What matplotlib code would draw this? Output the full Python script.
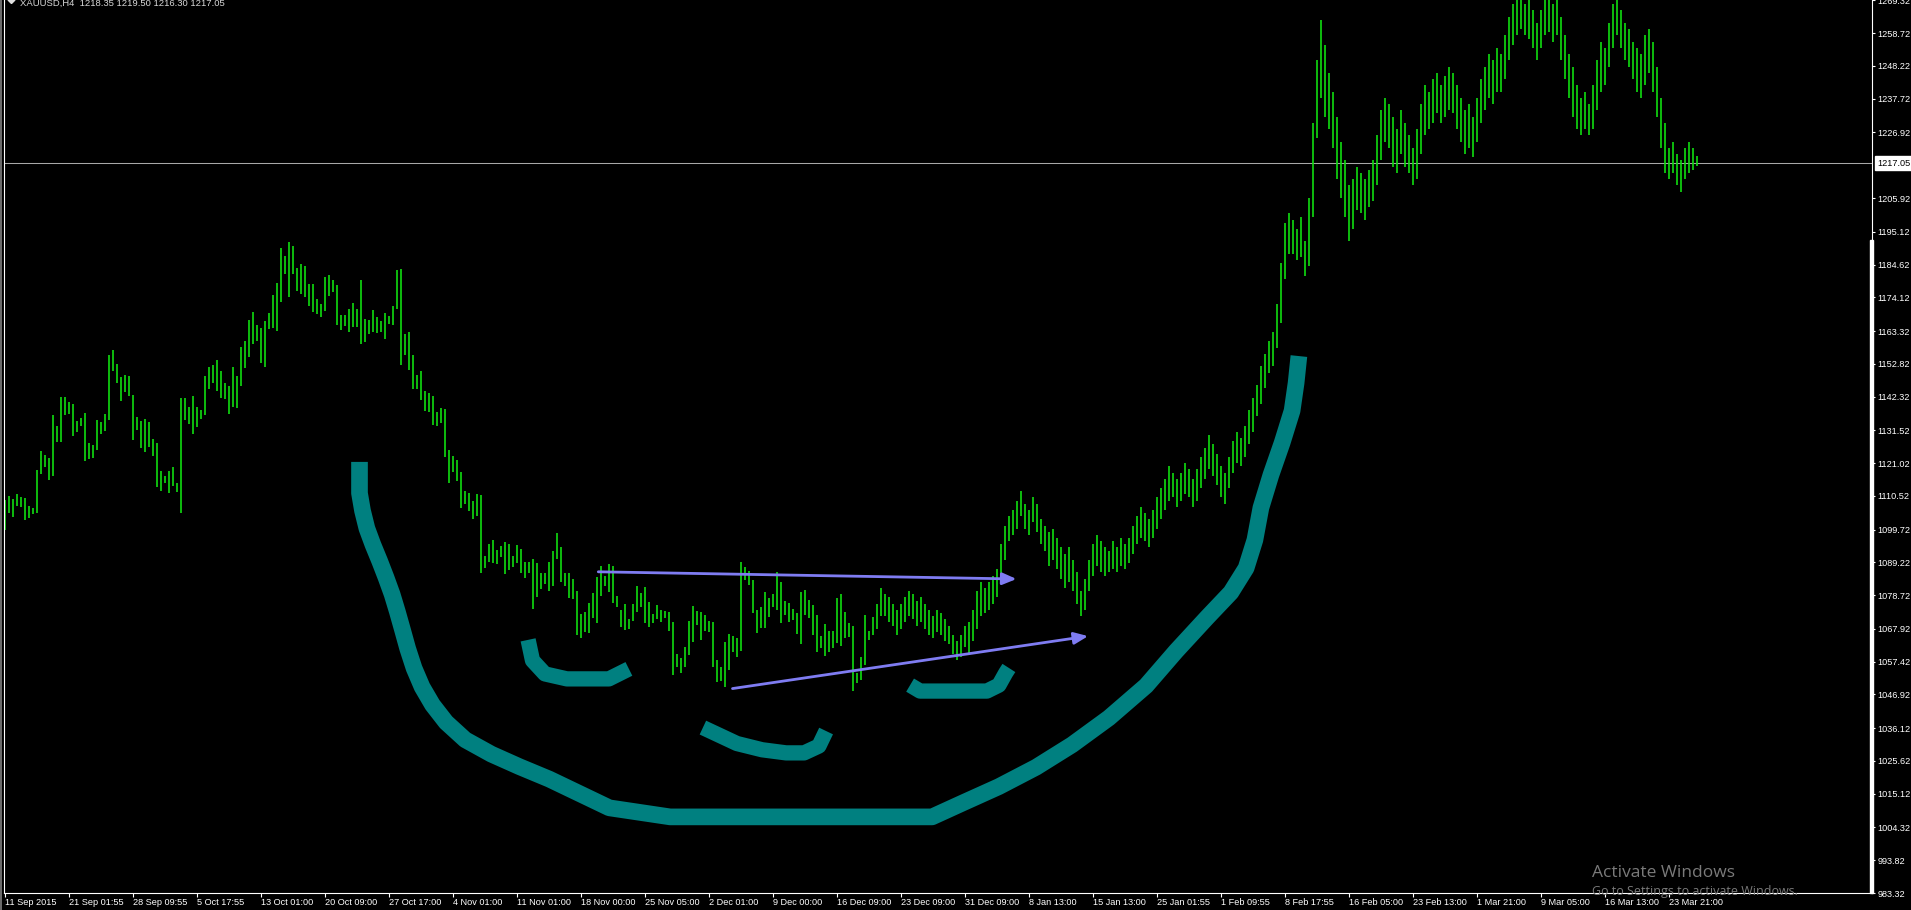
# -*- coding: utf-8 -*-

# XAUUSD H4 chart, MetaTrader style (black background, green bars)

import numpy as np
from matplotlib import pyplot as plt
from matplotlib.patches import Rectangle, Polygon
from matplotlib.lines import Line2D
import matplotlib.transforms as mtransforms

W, H, DPI = 1911, 910, 100

# One entry = two H4 bars (high / low)
HIGH = [
    1109.2, 1110.6, 1109.5, 1111.1, 1110.3, 1109.9, 1107.4, 1106.7, 1118.8, 1124.9,
    1123.6, 1122.5, 1136.4, 1132.9, 1142.3, 1142.1, 1140.7, 1139.9, 1134.5, 1135.6,
    1137.1, 1127.6, 1126.8, 1134.8, 1134.2, 1136.7, 1155.6, 1157.2, 1152.8, 1148.7,
    1149.2, 1149.0, 1142.8, 1135.7, 1134.4, 1135.1, 1134.3, 1128.7, 1127.3, 1118.5,
    1117.0, 1118.5, 1119.9, 1114.6, 1141.9, 1141.9, 1138.9, 1142.5, 1138.9, 1138.0,
    1149.0, 1151.9, 1152.4, 1154.0, 1150.6, 1146.8, 1145.8, 1151.9, 1149.0, 1158.1,
    1160.1, 1166.8, 1169.5, 1165.2, 1164.4, 1166.5, 1169.1, 1174.9, 1178.6, 1189.8,
    1187.4, 1191.9, 1190.6, 1183.4, 1184.8, 1184.1, 1178.4, 1178.4, 1173.6, 1172.0,
    1180.5, 1181.3, 1179.7, 1178.1, 1168.5, 1168.5, 1170.4, 1172.4, 1170.4, 1179.7,
    1167.1, 1166.8, 1170.0, 1167.7, 1166.6, 1169.0, 1168.2, 1171.4, 1182.9, 1183.1,
    1162.4, 1163.1, 1155.6, 1149.2, 1150.5, 1144.2, 1143.6, 1142.5, 1137.5, 1138.6,
    1138.2, 1125.2, 1123.3, 1122.0, 1118.3, 1112.1, 1111.6, 1108.9, 1111.1, 1110.8,
    1091.2, 1095.1, 1096.4, 1093.2, 1094.5, 1095.6, 1095.1, 1091.3, 1094.8, 1093.5,
    1089.2, 1089.4, 1090.3, 1088.9, 1085.7, 1085.7, 1089.2, 1092.8, 1098.5, 1094.2,
    1085.7, 1085.7, 1083.9, 1080.0, 1072.7, 1073.4, 1076.3, 1079.5, 1084.6, 1088.1,
    1084.9, 1088.7, 1088.1, 1078.4, 1074.0, 1075.9, 1071.0, 1075.9, 1081.6, 1079.5,
    1081.2, 1076.6, 1072.7, 1075.6, 1074.0, 1073.8, 1073.4, 1070.2, 1059.9, 1058.5,
    1062.0, 1070.5, 1075.2, 1073.8, 1073.2, 1072.4, 1070.5, 1070.0, 1057.9, 1055.6,
    1063.8, 1066.3, 1065.6, 1065.1, 1089.4, 1087.8, 1086.5, 1083.6, 1074.0, 1075.0,
    1079.6, 1077.7, 1079.1, 1086.0, 1083.0, 1077.0, 1076.1, 1074.2, 1072.9, 1079.6,
    1080.4, 1077.2, 1075.6, 1072.4, 1065.6, 1069.5, 1067.2, 1067.2, 1077.9, 1079.1,
    1073.4, 1069.9, 1068.8, 1053.9, 1058.8, 1072.4, 1067.2, 1071.6, 1076.0, 1081.0,
    1079.0, 1078.0, 1076.0, 1074.0, 1076.0, 1078.0, 1080.0, 1079.0, 1077.0, 1078.0,
    1076.0, 1074.0, 1072.0, 1074.0, 1073.0, 1071.0, 1069.0, 1066.0, 1064.0, 1066.0,
    1069.0, 1070.0, 1074.0, 1080.0, 1083.0, 1081.0, 1083.0, 1085.0, 1087.0, 1095.0,
    1101.0, 1104.0, 1106.0, 1109.0, 1112.0, 1108.0, 1106.0, 1110.0, 1108.0, 1103.0,
    1101.0, 1099.0, 1100.0, 1097.0, 1094.0, 1092.0, 1094.0, 1090.0, 1086.0, 1080.0,
    1084.0, 1090.0, 1095.0, 1098.0, 1096.0, 1094.0, 1093.0, 1096.0, 1094.0, 1097.0,
    1095.0, 1097.0, 1101.0, 1104.0, 1107.0, 1105.0, 1103.0, 1106.0, 1110.0, 1113.0,
    1116.0, 1120.0, 1118.0, 1116.0, 1118.0, 1121.0, 1119.0, 1116.0, 1119.0, 1123.0,
    1126.0, 1130.0, 1127.0, 1124.0, 1120.0, 1118.0, 1123.0, 1128.0, 1131.0, 1129.0,
    1133.0, 1138.0, 1142.0, 1146.0, 1152.0, 1156.0, 1160.0, 1163.0, 1172.0, 1185.0,
    1198.0, 1201.0, 1199.0, 1196.0, 1200.0, 1192.0, 1206.0, 1230.0, 1250.0, 1263.0,
    1255.0, 1246.0, 1240.0, 1232.0, 1224.0, 1218.0, 1210.0, 1212.0, 1216.0, 1214.0,
    1212.0, 1215.0, 1218.0, 1226.0, 1234.0, 1238.0, 1236.0, 1232.0, 1228.0, 1234.0,
    1230.0, 1226.0, 1222.0, 1228.0, 1236.0, 1242.0, 1240.0, 1244.0, 1246.0, 1242.0,
    1245.0, 1248.0, 1246.0, 1242.0, 1238.0, 1234.0, 1236.0, 1232.0, 1238.0, 1244.0,
    1248.0, 1252.0, 1250.0, 1254.0, 1252.0, 1258.0, 1264.0, 1268.0, 1270.0, 1270.0,
    1268.0, 1270.0, 1266.0, 1262.0, 1266.0, 1270.0, 1270.0, 1268.0, 1270.0, 1264.0,
    1258.0, 1252.0, 1248.0, 1242.0, 1238.0, 1240.0, 1236.0, 1242.0, 1250.0, 1256.0,
    1254.0, 1262.0, 1268.0, 1270.0, 1266.0, 1262.0, 1260.0, 1256.0, 1254.0, 1252.0,
    1258.0, 1260.0, 1256.0, 1248.0, 1238.0, 1230.0, 1222.0, 1224.0, 1220.0, 1218.0,
    1222.0, 1224.0, 1222.0, 1219.5]

LOW = [
    1099.6, 1105.1, 1103.8, 1107.4, 1106.8, 1102.8, 1103.5, 1104.6, 1105.1, 1117.5,
    1119.9, 1115.6, 1116.9, 1127.9, 1127.9, 1136.5, 1136.7, 1129.8, 1131.1, 1133.0,
    1121.8, 1122.3, 1122.5, 1125.2, 1130.2, 1131.3, 1134.8, 1150.6, 1146.6, 1140.9,
    1143.9, 1142.6, 1128.4, 1131.6, 1125.7, 1124.7, 1126.1, 1123.3, 1113.4, 1112.1,
    1114.5, 1111.5, 1113.8, 1111.8, 1105.1, 1134.8, 1133.7, 1130.3, 1132.7, 1135.1,
    1136.4, 1144.7, 1146.6, 1144.1, 1141.9, 1141.7, 1136.7, 1139.1, 1138.8, 1145.8,
    1151.4, 1155.1, 1159.2, 1160.1, 1153.2, 1151.9, 1164.0, 1164.4, 1163.3, 1172.7,
    1181.6, 1174.3, 1181.6, 1176.2, 1175.2, 1174.1, 1171.4, 1169.3, 1168.8, 1167.7,
    1169.8, 1174.6, 1175.9, 1165.2, 1163.6, 1165.0, 1162.9, 1164.7, 1164.7, 1159.2,
    1159.9, 1162.4, 1162.9, 1162.6, 1162.9, 1160.9, 1165.6, 1165.2, 1170.4, 1152.4,
    1155.6, 1150.8, 1144.7, 1144.7, 1141.2, 1137.8, 1137.3, 1133.2, 1133.0, 1133.8,
    1123.1, 1114.7, 1118.3, 1115.4, 1106.7, 1107.9, 1105.8, 1103.1, 1104.2, 1085.9,
    1087.3, 1089.4, 1088.9, 1088.7, 1091.0, 1085.5, 1086.8, 1087.8, 1088.9, 1085.9,
    1084.1, 1085.7, 1074.3, 1078.2, 1080.7, 1082.3, 1080.1, 1081.7, 1090.3, 1083.0,
    1081.7, 1077.7, 1077.5, 1065.9, 1064.9, 1067.0, 1066.7, 1071.3, 1069.9, 1078.6,
    1081.6, 1079.8, 1076.3, 1075.0, 1068.4, 1067.6, 1067.9, 1070.6, 1073.4, 1075.0,
    1069.7, 1068.4, 1069.9, 1071.0, 1070.2, 1071.3, 1067.3, 1053.1, 1055.6, 1053.7,
    1055.6, 1059.5, 1063.8, 1069.2, 1064.4, 1067.3, 1067.0, 1055.8, 1051.0, 1051.3,
    1049.4, 1054.7, 1060.6, 1058.8, 1060.9, 1083.6, 1082.0, 1073.1, 1066.5, 1068.1,
    1068.1, 1071.8, 1075.0, 1074.0, 1069.9, 1072.4, 1070.2, 1070.8, 1066.3, 1063.0,
    1072.4, 1071.3, 1066.0, 1060.6, 1061.9, 1059.2, 1060.6, 1061.7, 1063.5, 1062.4,
    1064.9, 1065.2, 1048.1, 1050.7, 1051.5, 1056.3, 1064.4, 1066.0, 1068.0, 1072.0,
    1072.0, 1070.0, 1069.0, 1066.0, 1068.0, 1070.0, 1072.0, 1071.0, 1069.0, 1070.0,
    1068.0, 1066.0, 1065.0, 1067.0, 1066.0, 1064.0, 1063.0, 1060.0, 1058.0, 1059.0,
    1062.0, 1060.0, 1064.0, 1068.0, 1072.0, 1073.0, 1074.0, 1076.0, 1078.0, 1083.0,
    1090.0, 1096.0, 1098.0, 1100.0, 1104.0, 1100.0, 1098.0, 1102.0, 1099.0, 1095.0,
    1093.0, 1088.0, 1090.0, 1087.0, 1084.0, 1081.0, 1083.0, 1080.0, 1076.0, 1072.0,
    1074.0, 1080.0, 1085.0, 1088.0, 1086.0, 1085.0, 1086.0, 1087.0, 1086.0, 1088.0,
    1087.0, 1089.0, 1092.0, 1095.0, 1097.0, 1096.0, 1094.0, 1097.0, 1100.0, 1103.0,
    1106.0, 1109.0, 1110.0, 1107.0, 1109.0, 1111.0, 1110.0, 1107.0, 1109.0, 1113.0,
    1116.0, 1119.0, 1117.0, 1114.0, 1110.0, 1108.0, 1113.0, 1118.0, 1121.0, 1120.0,
    1123.0, 1127.0, 1131.0, 1136.0, 1140.0, 1145.0, 1150.0, 1152.0, 1158.0, 1166.0,
    1180.0, 1188.0, 1188.0, 1186.0, 1187.0, 1181.0, 1184.0, 1200.0, 1225.0, 1238.0,
    1232.0, 1228.0, 1222.0, 1212.0, 1206.0, 1200.0, 1192.0, 1196.0, 1202.0, 1201.0,
    1199.0, 1203.0, 1205.0, 1210.0, 1218.0, 1224.0, 1222.0, 1216.0, 1214.0, 1220.0,
    1216.0, 1214.0, 1210.0, 1212.0, 1220.0, 1226.0, 1228.0, 1230.0, 1233.0, 1230.0,
    1232.0, 1234.0, 1233.0, 1228.0, 1224.0, 1220.0, 1222.0, 1219.0, 1224.0, 1230.0,
    1234.0, 1238.0, 1236.0, 1240.0, 1240.0, 1244.0, 1250.0, 1255.0, 1258.0, 1260.0,
    1258.0, 1257.0, 1254.0, 1250.0, 1254.0, 1258.0, 1259.0, 1256.0, 1258.0, 1250.0,
    1244.0, 1238.0, 1232.0, 1228.0, 1226.0, 1228.0, 1226.0, 1228.0, 1234.0, 1240.0,
    1242.0, 1248.0, 1254.0, 1258.0, 1254.0, 1250.0, 1248.0, 1244.0, 1240.0, 1238.0,
    1242.0, 1246.0, 1240.0, 1232.0, 1222.0, 1214.0, 1212.0, 1214.0, 1210.0, 1208.0,
    1212.0, 1214.0, 1215.0, 1216.3]

LAST_PRICE = 1217.05
HEADER = 'XAUUSD,H4  1218.35 1219.50 1216.30 1217.05'

PRICE_TICKS = [1269.32, 1258.72, 1248.22, 1237.72, 1226.92, 1205.92, 1195.12,
               1184.62, 1174.12, 1163.32, 1152.82, 1142.32, 1131.52, 1121.02,
               1110.52, 1099.72, 1089.22, 1078.72, 1067.92, 1057.42, 1046.92,
               1036.12, 1025.62, 1015.12, 1004.32, 993.82, 983.32]

DATE_LABELS = ['11 Sep 2015', '21 Sep 01:55', '28 Sep 09:55', '5 Oct 17:55',
               '13 Oct 01:00', '20 Oct 09:00', '27 Oct 17:00', '4 Nov 01:00',
               '11 Nov 01:00', '18 Nov 00:00', '25 Nov 05:00', '2 Dec 01:00',
               '9 Dec 00:00', '16 Dec 09:00', '23 Dec 09:00', '31 Dec 09:00',
               '8 Jan 13:00', '15 Jan 13:00', '25 Jan 01:55', '1 Feb 09:55',
               '8 Feb 17:55', '16 Feb 05:00', '23 Feb 13:00', '1 Mar 21:00',
               '9 Mar 05:00', '16 Mar 13:00', '23 Mar 21:00']
DATE_STEP = 16   # entries between date labels

# hand drawn objects, anchored in (entry index, price)
U_X = [88.55, 88.55, 89.3, 90.4, 91.9, 93.6, 95.2, 96.7, 98.0, 99.3, 100.6,
       102.2, 104.2, 106.8, 110.2, 115.0, 121.5, 128.5, 136.0, 143.5, 151.0,
       166.2, 231.7, 239.4, 248.4, 257.7, 266.7, 275.9, 285.2, 292.7, 300.4,
       306.4, 310.2, 312.4, 313.9, 316.4, 319.2, 321.7, 322.7, 323.4]
U_P = [1121.4, 1111.4, 1105.8, 1100.1, 1094.9, 1089.6, 1084.3, 1079.0, 1073.5,
       1067.6, 1061.6, 1055.3, 1049.3, 1043.6, 1038.0, 1032.4, 1027.8, 1023.8,
       1019.8, 1015.2, 1010.6, 1007.7, 1007.7, 1012.2, 1017.4, 1023.6, 1030.8,
       1039.4, 1049.7, 1060.8, 1071.5, 1079.6, 1087.4, 1096.4, 1106.7, 1117.2,
       1127.5, 1137.8, 1146.7, 1155.3]

HOOK1_X = [130.7, 131.8, 134.9, 140.4, 150.9, 153.4, 155.9]
HOOK1_P = [1064.4, 1057.8, 1053.5, 1051.9, 1051.9, 1053.5, 1055.1]
HOOK2_X = [174.4, 178.4, 182.9, 189.2, 195.2, 199.7, 203.4, 205.2]
HOOK2_P = [1036.3, 1033.9, 1031.2, 1029.2, 1028.2, 1028.2, 1030.4, 1035.2]
HOOK3_X = [226.2, 228.7, 234.8, 245.4, 248.4, 250.1, 250.9]
HOOK3_P = [1049.9, 1048.0, 1048.0, 1048.0, 1049.9, 1053.8, 1055.4]

ARROW_UP = ((148.25, 1086.2), (252.8, 1083.9))
ARROW_LOW = ((181.8, 1048.8), (270.7, 1065.6))

BAR_COLOR = '#10dc10'
TEAL = '#008080'
TREND = '#7f7cf2'
AXIS_FONT = 6.6


def draw_chart(save_file='out.png'):
    plt.rcParams['font.family'] = ['Liberation Sans', 'DejaVu Sans']
    fig = plt.figure(figsize=(W / DPI, H / DPI), dpi=DPI, facecolor='black')
    ax = fig.add_axes([4 / W, 17 / H, 1868 / W, 893 / H], facecolor='black')

    idx = np.arange(len(HIGH))
    ax.vlines(idx, LOW, HIGH, colors=BAR_COLOR, linewidth=1.2, zorder=2)

    ax.set_xlim(-0.325, 466.675)
    ax.set_ylim(983.32, 1269.35)

    # teal hand drawings
    ax.plot(U_X, U_P, color=TEAL, lw=12, solid_capstyle='butt',
            solid_joinstyle='round', zorder=3)
    for hx, hp in [(HOOK1_X, HOOK1_P), (HOOK2_X, HOOK2_P), (HOOK3_X, HOOK3_P)]:
        ax.plot(hx, hp, color=TEAL, lw=11, solid_capstyle='butt',
                solid_joinstyle='round', zorder=3)

    # trend arrows
    for start, end in (ARROW_UP, ARROW_LOW):
        ax.annotate('', xy=end, xytext=start,
                    arrowprops=dict(arrowstyle='-|>,head_length=0.4,head_width=0.17',
                                    color=TREND, lw=2.0, mutation_scale=21,
                                    shrinkA=0, shrinkB=0), zorder=4)

    # current price line and label
    ax.axhline(LAST_PRICE, color='#a8a8a8', lw=0.75, zorder=1)
    trans = mtransforms.blended_transform_factory(ax.transAxes, ax.transData)
    ax.text(1 + 5 / 1868, LAST_PRICE, '%.2f' % LAST_PRICE, transform=trans,
            ha='left', va='center', fontsize=AXIS_FONT, color='black',
            clip_on=False,
            bbox=dict(boxstyle='square,pad=0.25', fc='white', ec='white'))

    # axes styling
    for side in ['left', 'bottom', 'right']:
        ax.spines[side].set_color('white')
        ax.spines[side].set_linewidth(0.8)
    ax.spines['top'].set_visible(False)

    ax.yaxis.tick_right()
    ax.set_yticks(PRICE_TICKS)
    ax.set_yticklabels(['%.2f' % v for v in PRICE_TICKS])
    ax.tick_params(axis='y', colors='white', length=2.5, width=0.8,
                   labelsize=AXIS_FONT, pad=1.2)

    ax.set_xticks(np.arange(len(DATE_LABELS)) * DATE_STEP)
    ax.set_xticklabels(DATE_LABELS)
    ax.tick_params(axis='x', colors='white', length=3, width=0.8,
                   labelsize=AXIS_FONT, pad=0.8)
    for t in ax.get_xticklabels():
        t.set_horizontalalignment('left')

    # frame details
    fig.add_artist(Rectangle((1870 / W, 17 / H), 3 / W, 653 / H,
                             transform=fig.transFigure, color='white', zorder=5))
    fig.add_artist(Line2D([1 / W, 1 / W], [0, 1], color='#808080', lw=1.2,
                          transform=fig.transFigure))

    # header
    fig.add_artist(Polygon([(8 / W, 1.0), (15 / W, 1.0), (11.5 / W, 1 - 3.5 / H)],
                           closed=True, transform=fig.transFigure,
                           color='#e0e0e0'))
    fig.text(20 / W, 1 - 5.7 / H, HEADER, color='#d8d8d8', fontsize=6.8,
             va='baseline')

    # windows watermark
    fig.text(1592 / W, 1 - 877 / H, 'Activate Windows', color='#7a7a7a',
             fontsize=12.5, family=['Open Sans', 'DejaVu Sans'], va='baseline')
    fig.text(1592 / W, 1 - 895 / H, 'Go to Settings to activate Windows.',
             color='#7a7a7a', fontsize=9, family=['Open Sans', 'DejaVu Sans'],
             va='baseline')

    fig.savefig(save_file, dpi=DPI, facecolor='black')


if __name__ == '__main__':
    draw_chart()
